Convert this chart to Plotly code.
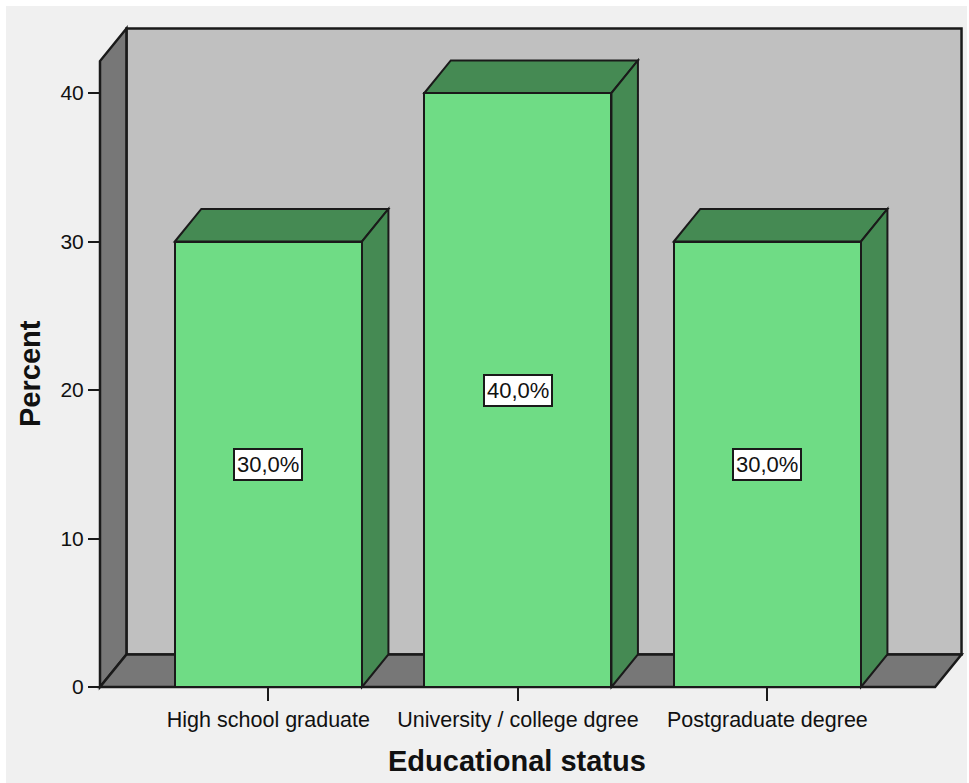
import plotly.graph_objects as go

# Survey data: share of respondents per educational status
categories = ["High school graduate", "University / college dgree", "Postgraduate degree"]
percent = [30.0, 40.0, 30.0]
y_ticks = [0, 10, 20, 30, 40]

# Colours
PAGE = "#F0F0F0"
BACK_WALL = "#C0C0C0"
SIDE_WALL = "#777777"
BAR_FRONT = "#6FDC85"
BAR_SHADE = "#458A53"
EDGE = "#1A1A1A"
FONT = "Liberation Sans, Arial, sans-serif"

# Pseudo-3D geometry (data units)
BAR_W = 0.75
DX, DY = 0.106, 2.19          # depth offset of the box
FX0, FX1 = -0.675, 2.672      # front frame x extent
WALL_TOP = 42.15              # front height of side wall

# Plot area placement (pixels)
W, H = 969, 783
ML, MR, MT, MB = 90, 0, 20, 90
PX_PER_X, PX_PER_Y = 249.5, 14.85
X_AT_100 = FX0
x_range = [X_AT_100 - (100 - ML) / PX_PER_X, X_AT_100 + (W - MR - 100) / PX_PER_X]
y_range = [-(H - MB - 687) / PX_PER_Y, (687 - MT) / PX_PER_Y]
plot_w = W - ML - MR
plot_h = H - MT - MB


def poly(pts):
    return "M " + " L ".join(f"{x},{y}" for x, y in pts) + " Z"


shapes = []
# page panel (white strip on top/left/right)
shapes.append(dict(type="rect", xref="paper", yref="paper", layer="below",
                   x0=(6 - ML) / plot_w, x1=(967 - ML) / plot_w,
                   y0=(H - MB - H) / plot_h, y1=(H - MB - 6) / plot_h,
                   fillcolor=PAGE, line=dict(width=0)))
# back wall
shapes.append(dict(type="rect", xref="x", yref="y", layer="below",
                   x0=FX0 + DX, x1=FX1 + DX, y0=DY, y1=WALL_TOP + DY,
                   fillcolor=BACK_WALL, line=dict(color=EDGE, width=2.5)))
# left wall
shapes.append(dict(type="path", xref="x", yref="y", layer="below",
                   path=poly([(FX0, 0), (FX0, WALL_TOP), (FX0 + DX, WALL_TOP + DY), (FX0 + DX, DY)]),
                   fillcolor=SIDE_WALL, line=dict(color=EDGE, width=2.5)))
# floor
shapes.append(dict(type="path", xref="x", yref="y", layer="below",
                   path=poly([(FX0, 0), (FX0 + DX, DY), (FX1 + DX, DY), (FX1, 0)]),
                   fillcolor=SIDE_WALL, line=dict(color=EDGE, width=2.5)))

xs = list(range(len(categories)))
for c, v in zip(xs, percent):
    l, r = c - BAR_W / 2, c + BAR_W / 2
    # top face
    shapes.append(dict(type="path", xref="x", yref="y", layer="below",
                       path=poly([(l, v), (l + DX, v + DY), (r + DX, v + DY), (r, v)]),
                       fillcolor=BAR_SHADE, line=dict(color=EDGE, width=2)))
    # right side face
    shapes.append(dict(type="path", xref="x", yref="y", layer="below",
                       path=poly([(r, 0), (r + DX, DY), (r + DX, v + DY), (r, v)]),
                       fillcolor=BAR_SHADE, line=dict(color=EDGE, width=2)))

fig = go.Figure(go.Bar(
    x=xs, y=percent, width=BAR_W, base=0,
    marker=dict(color=BAR_FRONT, line=dict(color=EDGE, width=2)),
    hoverinfo="skip", showlegend=False,
))

annotations = []
for c, v in zip(xs, percent):
    annotations.append(dict(
        x=c, y=v / 2, xref="x", yref="y", showarrow=False,
        xanchor="center", yanchor="middle",
        text=f"{v:.1f}%".replace(".", ","),
        font=dict(family=FONT, size=22, color="#111"),
        bgcolor="white", bordercolor=EDGE, borderwidth=2, borderpad=2,
    ))
annotations.append(dict(
    x=(517 - ML) / plot_w, y=(H - MB - 761) / plot_h, xref="paper", yref="paper",
    xanchor="center", yanchor="middle",
    showarrow=False, text="<b>Educational status</b>",
    font=dict(family=FONT, size=29, color="#111"),
))
annotations.append(dict(
    x=(30 - ML) / plot_w, y=(H - MB - 374) / plot_h, xref="paper", yref="paper",
    xanchor="center", yanchor="middle",
    showarrow=False, text="<b>Percent</b>", textangle=-90,
    font=dict(family=FONT, size=29, color="#111"),
))

fig.update_layout(
    width=W, height=H,
    margin=dict(l=ML, r=MR, t=MT, b=MB),
    paper_bgcolor="white", plot_bgcolor="rgba(0,0,0,0)",
    shapes=shapes, annotations=annotations,
    bargap=0, showlegend=False,
    xaxis=dict(
        range=x_range, anchor="free", position=(H - MB - 687) / plot_h,
        tickvals=xs, ticktext=categories,
        ticks="outside", ticklen=13, tickwidth=2, tickcolor=EDGE,
        showgrid=False, zeroline=False, showline=False,
        tickfont=dict(family=FONT, size=21.5, color="#111"),
    ),
    yaxis=dict(
        range=y_range, anchor="free", position=(100 - ML) / plot_w,
        tickvals=y_ticks, ticktext=[str(t) for t in y_ticks],
        ticks="outside", ticklen=12, tickwidth=2, tickcolor=EDGE,
        showgrid=False, zeroline=False, showline=False,
        tickfont=dict(family=FONT, size=21, color="#111"),
    ),
)

fig.write_html("out.html")
